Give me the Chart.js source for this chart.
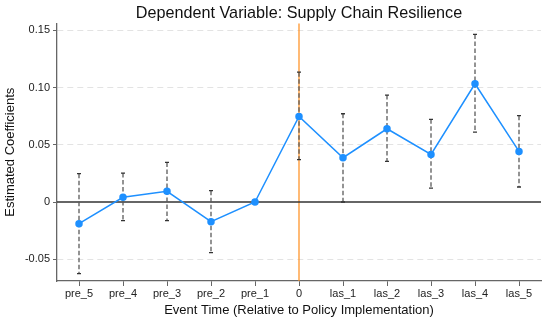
<!DOCTYPE html>
<html><head><meta charset="utf-8">
<script src="https://cdn.jsdelivr.net/npm/chart.js@4"></script>
<style>html,body{margin:0;padding:0;background:#fff}#wrap{width:550px;height:321px;position:relative}</style>
</head><body><div id="wrap"><canvas id="c"></canvas></div>
<script>
const categories = ['pre_5','pre_4','pre_3','pre_2','pre_1','0','las_1','las_2','las_3','las_4','las_5'];
const coefficients = [-0.0189, 0.0041, 0.0093, -0.0172, 0, 0.0748, 0.0387, 0.0640, 0.0416, 0.1033, 0.0442];
const ciLower = [-0.0625, -0.0163, -0.0163, -0.0442, null, 0.0370, 0.0000, 0.0355, 0.0122, 0.0611, 0.0131];
const ciUpper = [0.0248, 0.0253, 0.0346, 0.0099, null, 0.1134, 0.0771, 0.0934, 0.0722, 0.1464, 0.0754];
const yTickValues = [-0.05, 0, 0.05, 0.10, 0.15];
const yTickLabels = ['-0.05', '0', '0.05', '0.10', '0.15'];
const eventCategory = '0';

const FONT = "'Liberation Sans', Arial, sans-serif";

const overlay = {
  id: 'overlay',
  beforeDatasetsDraw(chart) {
    const {ctx, chartArea: a, scales: {x, y}} = chart;
    ctx.save();
    const ex = x.getPixelForValue(categories.indexOf(eventCategory));
    ctx.strokeStyle = '#FF8C1A'; ctx.lineWidth = 1.2;
    ctx.beginPath(); ctx.moveTo(ex, a.top); ctx.lineTo(ex, a.bottom); ctx.stroke();
    const zy = y.getPixelForValue(0);
    ctx.strokeStyle = '#333'; ctx.lineWidth = 1.3;
    ctx.beginPath(); ctx.moveTo(a.left, zy); ctx.lineTo(a.right, zy); ctx.stroke();
    ctx.lineWidth = 1.3;
    categories.forEach((c, i) => {
      if (ciLower[i] == null) return;
      const px = x.getPixelForValue(i);
      const y1 = y.getPixelForValue(ciLower[i]);
      const y2 = y.getPixelForValue(ciUpper[i]);
      ctx.strokeStyle = '#5a5a5a';
      ctx.setLineDash([4.5, 2.5]);
      ctx.beginPath(); ctx.moveTo(px, y2); ctx.lineTo(px, y1); ctx.stroke();
      ctx.setLineDash([]);
      ctx.strokeStyle = '#333';
      ctx.beginPath();
      ctx.moveTo(px - 2, y1); ctx.lineTo(px + 2, y1);
      ctx.moveTo(px - 2, y2); ctx.lineTo(px + 2, y2);
      ctx.stroke();
    });
    ctx.restore();
  }
};

new Chart(document.getElementById('c'), {
  type: 'line',
  data: {
    labels: categories,
    datasets: [{
      data: coefficients,
      borderColor: '#1E90FF',
      backgroundColor: '#1E90FF',
      borderWidth: 1.5,
      pointRadius: 3,
      pointHoverRadius: 3,
      tension: 0
    }]
  },
  options: {
    responsive: true,
    maintainAspectRatio: false,
    animation: false,
    layout: {padding: {left: 0, right: 9, top: 0, bottom: 0}},
    plugins: {
      legend: {display: false},
      tooltip: {enabled: false},
      title: {
        display: true,
        text: 'Dependent Variable: Supply Chain Resilience',
        fullSize: false,
        color: '#111',
        font: {family: FONT, size: 16.2, weight: 'normal', lineHeight: 1.2},
        padding: {top: 4, bottom: 0}
      }
    },
    scales: {
      x: {
        type: 'category',
        offset: true,
        grid: {display: true, drawOnChartArea: false, drawTicks: true, tickLength: 5, tickColor: '#666', tickWidth: 1},
        border: {display: true, color: '#666', width: 1.3},
        ticks: {color: '#222', font: {family: FONT, size: 11}, padding: 1, maxRotation: 0, autoSkip: false},
        title: {display: true, text: 'Event Time (Relative to Policy Implementation)', color: '#111',
                font: {family: FONT, size: 13}, padding: {top: 0, bottom: 3}},
        afterFit(s) { s.height = 40; }
      },
      y: {
        min: -0.069,
        max: 0.156,
        afterBuildTicks(s) { s.ticks = yTickValues.map(v => ({value: v})); },
        grid: {
          color: c => (c.tick && c.tick.value === 0) ? 'rgba(0,0,0,0)' : '#e3e3e3',
          lineWidth: 1,
          tickColor: '#666',
          tickLength: 4,
          drawTicks: true
        },
        border: {display: true, color: '#666', width: 1.3, dash: [6, 4]},
        ticks: {
          color: '#222', font: {family: FONT, size: 11}, padding: 3,
          callback: (v) => { const k = yTickValues.findIndex(t => Math.abs(t - v) < 1e-9); return k >= 0 ? yTickLabels[k] : ''; }
        },
        title: {display: true, text: 'Estimated Coefficients', color: '#111',
                font: {family: FONT, size: 13}, padding: {top: 3, bottom: 0}},
        afterFit(s) { s.width = 57; }
      }
    }
  },
  plugins: [overlay]
});
</script>
</body></html>
